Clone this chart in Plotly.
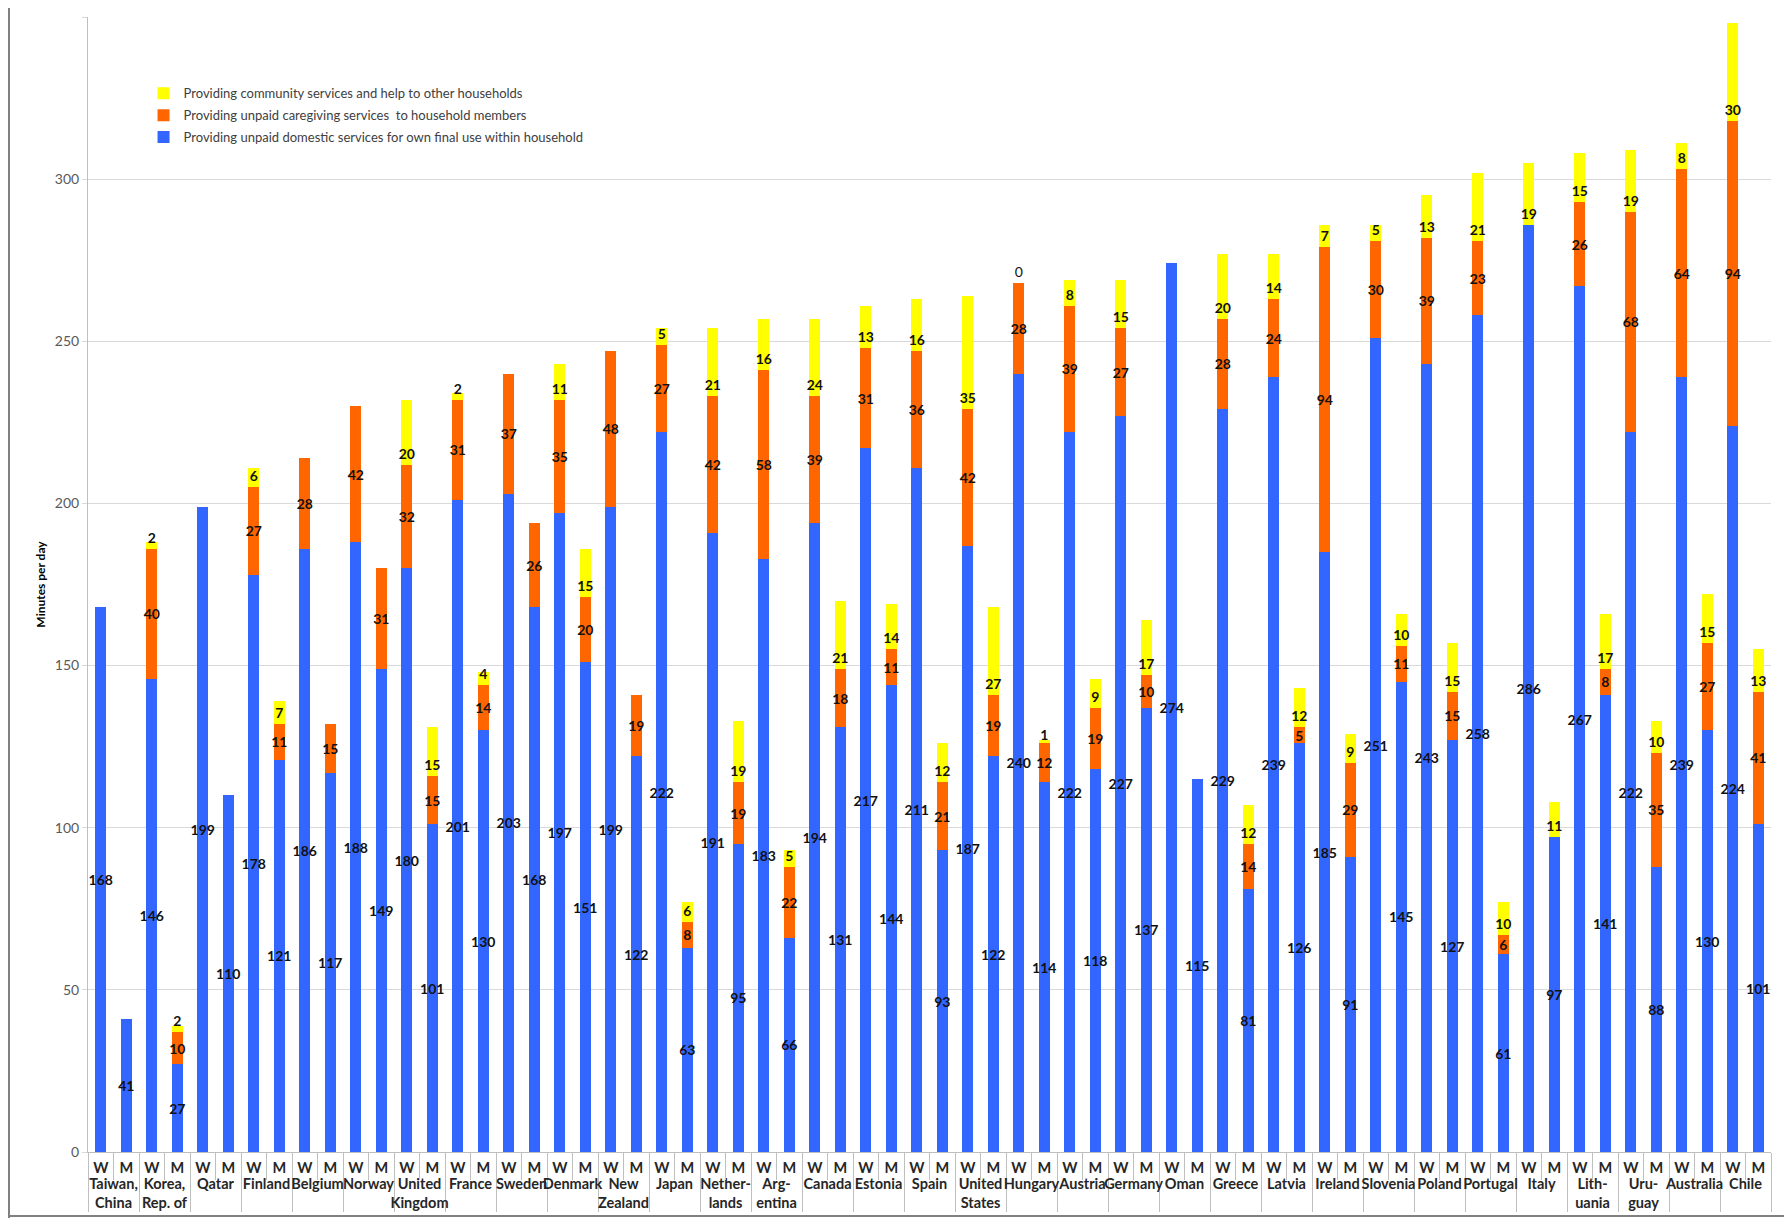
import plotly.graph_objects as go

# Countries (group labels on the x axis)
countries = [
    "Taiwan,<br>China", "Korea,<br>Rep. of", "Qatar", "Finland", "Belgium", "Norway",
    "United<br>Kingdom", "France", "Sweden", "Denmark", "New<br>Zealand", "Japan",
    "Nether-<br>lands", "Arg-<br>entina", "Canada", "Estonia", "Spain", "United<br>States",
    "Hungary", "Austria", "Germany", "Oman", "Greece", "Latvia", "Ireland", "Slovenia",
    "Poland", "Portugal", "Italy", "Lith-<br>uania", "Uru-<br>guay", "Australia", "Chile",
]
sexes = ["W", "M"]

# Minutes per day, women (W) and men (M); None = no value shown
domestic_w = [168, 146, 199, 178, 186, 188, 180, 201, 203, 197, 199, 222, 191, 183, 194, 217, 211,
              187, 240, 222, 227, 274, 229, 239, 185, 251, 243, 258, 286, 267, 222, 239, 224]
domestic_m = [41, 27, 110, 121, 117, 149, 101, 130, 168, 151, 122, 63, 95, 66, 131, 144, 93,
              122, 114, 118, 137, 115, 81, 126, 91, 145, 127, 61, 97, 141, 88, 130, 101]
care_w = [None, 40, None, 27, 28, 42, 32, 31, 37, 35, 48, 27, 42, 58, 39, 31, 36,
          42, 28, 39, 27, None, 28, 24, 94, 30, 39, 23, None, 26, 68, 64, 94]
care_m = [None, 10, None, 11, 15, 31, 15, 14, 26, 20, 19, 8, 19, 22, 18, 11, 21,
          19, 12, 19, 10, None, 14, 5, 29, 11, 15, 6, None, 8, 35, 27, 41]
community_w = [None, 2, None, 6, None, None, 20, 2, None, 11, None, 5, 21, 16, 24, 13, 16,
               35, 0, 8, 15, None, 20, 14, 7, 5, 13, 21, 19, 15, 19, 8, 30]
community_m = [None, 2, None, 7, None, None, 15, 4, None, 15, None, 6, 19, 5, 21, 14, 12,
               27, 1, 9, 17, None, 12, 12, 9, 10, 15, 10, 11, 17, 10, 15, 13]

series = [
    ("Providing unpaid domestic services for own final use within household", domestic_w, domestic_m, "#3366FF", "middle"),
    ("Providing unpaid caregiving services  to household members", care_w, care_m, "#FF6600", "middle"),
    ("Providing community services and help to other households", community_w, community_m, "#FFFF00", "start"),
]

x_country = []
x_sex = []
for c in countries:
    for s in sexes:
        x_country.append(c)
        x_sex.append(s)


def interleave(w, m):
    out = []
    for a, b in zip(w, m):
        out.extend([a, b])
    return out


FONT = "Lato, 'Open Sans', sans-serif"

fig = go.Figure()
for i, (name, w, m, color, anchor) in enumerate(series):
    vals = interleave(w, m)
    y = [0 if v is None else v for v in vals]
    text = ["" if v is None else f"<b>{v}</b>" if v != 0 else "0" for v in vals]
    pos = ["outside" if v == 0 else "inside" for v in vals]
    fig.add_trace(go.Bar(
        x=[x_country, x_sex], y=y, name=name, legendgroup=name, legendrank=len(series) - i,
        marker=dict(color=color, line=dict(width=0)),
        text=text, textposition=pos, insidetextanchor=anchor, textangle=0,
        constraintext="none", cliponaxis=False,
        textfont=dict(family=FONT, size=14, color="#111111"),
        hoverinfo="skip",
    ))

fig.update_layout(
    barmode="stack",
    bargap=0.57,
    width=1792, height=1218,
    margin=dict(l=80, r=29, t=9, b=74),
    plot_bgcolor="white", paper_bgcolor="white",
    font=dict(family=FONT, size=13, color="#404040"),
    uniformtext=dict(mode="show", minsize=14),
    legend=dict(
        x=0.033, y=0.946, xanchor="left", yanchor="top",
        traceorder="grouped", tracegroupgap=2, bgcolor="rgba(0,0,0,0)",
        font=dict(size=13, color="#404040"),
    ),
    showlegend=True,
)

fig.update_yaxes(
    range=[0, 350], dtick=50, showgrid=True, gridcolor="#D9D9D9", gridwidth=1,
    showline=True, linecolor="#BFBFBF", ticks="outside", ticklen=5, tickcolor="#D9D9D9",
    tickfont=dict(size=14, color="#595959"), automargin=False,
    title=dict(text="<b>Minutes per day</b>", font=dict(size=12, color="black"), standoff=6),
    zeroline=False,
)
fig.update_xaxes(
    type="multicategory", showline=True, linecolor="#BFBFBF", tickangle=0,
    showdividers=True, dividercolor="#BFBFBF", dividerwidth=1, ticklabelstandoff=3,
    tickfont=dict(size=14.5, color="#262626", weight="bold"), automargin=False,
)

# short separators between the W and M labels, and the frame lines
plot_w = 1792 - 80 - 29
plot_h = 1218 - 9 - 74
fig.update_layout(shapes=[
    dict(type="line", xref="x", yref="paper", x0=2 * i + 0.5, x1=2 * i + 0.5, y0=0, y1=-28 / plot_h,
         line=dict(color="#BFBFBF", width=1))
    for i in range(len(countries))
] + [
    dict(type="line", xref="paper", yref="paper", x0=-79 / plot_w, x1=-79 / plot_w,
         y0=-74 / plot_h, y1=1 + 9 / plot_h, line=dict(color="#808080", width=2)),
    dict(type="line", xref="paper", yref="paper", x0=-80 / plot_w, x1=1 + 29 / plot_w,
         y0=-64 / plot_h, y1=-64 / plot_h, line=dict(color="#808080", width=2)),
])

fig.write_html("out.html")
